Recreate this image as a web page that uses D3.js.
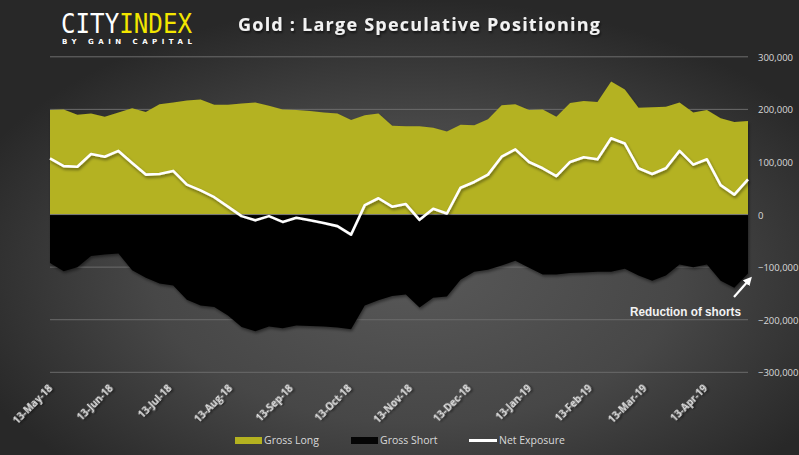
<!DOCTYPE html>
<html>
<head>
<meta charset="utf-8">
<script src="https://cdn.jsdelivr.net/npm/d3@7"></script>
<style>
  html, body { margin: 0; padding: 0; background: #3a3a3a; }
  svg { display: block; }
</style>
</head>
<body>
<script>
// weekly dates (COT positioning)
var dates = ["2018-05-13","2018-05-20","2018-05-27","2018-06-03","2018-06-10","2018-06-17","2018-06-24",
  "2018-07-01","2018-07-08","2018-07-15","2018-07-22","2018-07-29","2018-08-05","2018-08-12","2018-08-19",
  "2018-08-26","2018-09-02","2018-09-09","2018-09-16","2018-09-23","2018-09-30","2018-10-07","2018-10-14",
  "2018-10-21","2018-10-28","2018-11-04","2018-11-11","2018-11-18","2018-11-25","2018-12-02","2018-12-09",
  "2018-12-16","2018-12-23","2018-12-30","2019-01-06","2019-01-13","2019-01-20","2019-01-27","2019-02-03",
  "2019-02-10","2019-02-17","2019-02-24","2019-03-03","2019-03-10","2019-03-17","2019-03-24","2019-03-31",
  "2019-04-07","2019-04-14","2019-04-21","2019-04-28","2019-05-05"];

// contracts, thousands
var grossLong = [199,200,190,192,186,194,202,195,210,213,217,219,209,
  209,211,213,207,200,199,197,194,192,180,189,192,169,
  168,168,165,158,171,170,181,208,210,199,200,186,212,
  216,214,253,238,203,204,205,213,194,199,183,176,178];

var grossShort = [-92,-108,-100,-79,-76,-74,-106,-120,-131,-135,-162,-173,-176,
  -192,-214,-222,-213,-216,-211,-212,-213,-215,-218,-173,-163,-155,
  -152,-177,-158,-156,-124,-109,-105,-97,-88,-101,-114,-114,-111,
  -110,-109,-109,-103,-116,-126,-116,-95,-100,-95,-126,-139,-112];

var netExposure = [107,92,91,115,110,121,98,76,77,83,57,46,33,
  15,-3,-11,-3,-14,-6,-11,-16,-22,-38,18,31,15,
  20,-10,11,2,51,62,76,110,124,100,88,73,100,
  109,105,145,135,88,77,88,121,95,105,56,38,67];

var tickLabels = ["13-May-18","13-Jun-18","13-Jul-18","13-Aug-18","13-Sep-18","13-Oct-18",
  "13-Nov-18","13-Dec-18","13-Jan-19","13-Feb-19","13-Mar-19","13-Apr-19"];
var yTicks = [-300,-200,-100,0,100,200,300];

var width = 799, height = 455;
var parseDay = d3.timeParse("%Y-%m-%d");
var parseLabel = d3.timeParse("%d-%b-%y");

var data = dates.map(function(d, i) {
  return {date: parseDay(d), long: grossLong[i], short: grossShort[i], net: netExposure[i]};
});

var svg = d3.select("body").append("svg")
  .attr("width", width)
  .attr("height", height);

var defs = svg.append("defs");

var bg = defs.append("radialGradient")
  .attr("id", "bg")
  .attr("cx", "52%").attr("cy", "60%").attr("r", "60%");
bg.append("stop").attr("offset", "0%").attr("stop-color", "#585858");
bg.append("stop").attr("offset", "55%").attr("stop-color", "#474747");
bg.append("stop").attr("offset", "100%").attr("stop-color", "#282828");

var shadow = defs.append("filter").attr("id", "shadow")
  .attr("x", "-10%").attr("y", "-10%").attr("width", "120%").attr("height", "130%");
shadow.append("feDropShadow")
  .attr("dx", 1).attr("dy", 2).attr("stdDeviation", 1.5)
  .attr("flood-color", "#000").attr("flood-opacity", 0.45);

var txtShadow = defs.append("filter").attr("id", "txtshadow");
txtShadow.append("feDropShadow")
  .attr("dx", 1).attr("dy", 2).attr("stdDeviation", 1)
  .attr("flood-color", "#000").attr("flood-opacity", 0.6);

defs.append("marker")
  .attr("id", "arrow")
  .attr("viewBox", "0 0 10 10")
  .attr("refX", 5).attr("refY", 5)
  .attr("markerWidth", 4).attr("markerHeight", 4)
  .attr("orient", "auto")
  .append("path")
  .attr("d", "M0,0L10,5L0,10z")
  .attr("fill", "#fff");

svg.append("rect")
  .attr("width", width).attr("height", height)
  .attr("fill", "url(#bg)");

var x = d3.scaleTime()
  .domain([data[0].date, data[data.length - 1].date])
  .range([50, 748]);

var y = d3.scaleLinear()
  .domain([-300, 300])
  .range([372.3, 56.8]);

// gridlines
svg.append("g")
  .selectAll("line")
  .data(yTicks)
  .enter().append("line")
  .attr("x1", 50).attr("x2", 748)
  .attr("y1", function(d) { return y(d); })
  .attr("y2", function(d) { return y(d); })
  .attr("stroke", "#6b6b6b")
  .attr("stroke-width", 1);

var areaLong = d3.area()
  .x(function(d) { return x(d.date); })
  .y0(y(0))
  .y1(function(d) { return y(d.long); });

var areaShort = d3.area()
  .x(function(d) { return x(d.date); })
  .y0(y(0))
  .y1(function(d) { return y(d.short); });

var netLine = d3.line()
  .x(function(d) { return x(d.date); })
  .y(function(d) { return y(d.net); });

svg.append("path")
  .datum(data)
  .attr("d", areaLong)
  .attr("fill", "#b4b220")
  .attr("filter", "url(#shadow)");

svg.append("path")
  .datum(data)
  .attr("d", areaShort)
  .attr("fill", "#050505")
  .attr("filter", "url(#shadow)");

svg.append("line")
  .attr("x1", 50).attr("x2", 748)
  .attr("y1", y(0)).attr("y2", y(0))
  .attr("stroke", "#7a7a7a")
  .attr("stroke-width", 1);

svg.append("path")
  .datum(data)
  .attr("d", netLine)
  .attr("fill", "none")
  .attr("stroke", "#ffffff")
  .attr("stroke-width", 2.6)
  .attr("stroke-linejoin", "round")
  .attr("filter", "url(#shadow)");

// y axis labels on the right
svg.append("g")
  .selectAll("text")
  .data(yTicks)
  .enter().append("text")
  .attr("x", 758)
  .attr("y", function(d) { return y(d) + 4; })
  .attr("font-family", "Open Sans, sans-serif")
  .attr("font-size", 9.5)
  .attr("fill", "#d9d9d9")
  .text(function(d) { return d3.format(",")(d * 1000); });

// x axis labels
svg.append("g")
  .selectAll("text")
  .data(tickLabels)
  .enter().append("text")
  .attr("transform", function(d) {
    return "translate(" + (x(parseLabel(d)) + 3) + ",389) rotate(-45)";
  })
  .attr("text-anchor", "end")
  .attr("font-family", "Open Sans, sans-serif")
  .attr("font-weight", "bold")
  .attr("font-size", 10)
  .attr("fill", "#e0e0e0")
  .attr("filter", "url(#txtshadow)")
  .text(function(d) { return d; });

// logo
var logo = svg.append("g");
logo.append("text")
  .attr("x", 61).attr("y", 33)
  .attr("font-family", "DejaVu Sans Mono, monospace")
  .attr("font-size", 26)
  .attr("textLength", 131)
  .attr("lengthAdjust", "spacingAndGlyphs")
  .selectAll("tspan")
  .data([["CITY", "#ffffff"], ["INDEX", "#f3e600"]])
  .enter().append("tspan")
  .attr("fill", function(d) { return d[1]; })
  .text(function(d) { return d[0]; });
logo.append("text")
  .attr("x", 62).attr("y", 44)
  .attr("font-family", "DejaVu Sans, sans-serif")
  .attr("font-weight", "bold")
  .attr("font-size", 7)
  .attr("textLength", 130)
  .attr("lengthAdjust", "spacing")
  .attr("fill", "#ffffff")
  .text("BY GAIN CAPITAL");

// title
svg.append("text")
  .attr("x", 238).attr("y", 31)
  .attr("font-family", "Open Sans, sans-serif")
  .attr("font-weight", "bold")
  .attr("font-size", 18)
  .attr("textLength", 362)
  .attr("lengthAdjust", "spacing")
  .attr("fill", "#f2f2f2")
  .attr("filter", "url(#txtshadow)")
  .text("Gold : Large Speculative Positioning");

// annotation
svg.append("line")
  .attr("x1", 734).attr("y1", 297)
  .attr("x2", 749).attr("y2", 280)
  .attr("stroke", "#fff")
  .attr("stroke-width", 2.2)
  .attr("marker-end", "url(#arrow)");
svg.append("text")
  .attr("x", 630).attr("y", 316)
  .attr("font-family", "Liberation Sans, Arial, sans-serif")
  .attr("font-weight", "bold")
  .attr("font-size", 12)
  .attr("textLength", 111)
  .attr("lengthAdjust", "spacingAndGlyphs")
  .attr("fill", "#f2f2f2")
  .text("Reduction of shorts");

// legend
var legend = svg.append("g")
  .attr("font-family", "Open Sans, sans-serif")
  .attr("font-size", 10.5)
  .attr("fill", "#d9d9d9");
legend.append("rect").attr("x", 235).attr("y", 437).attr("width", 27).attr("height", 7).attr("fill", "#b4b220");
legend.append("text").attr("x", 264).attr("y", 444).text("Gross Long");
legend.append("rect").attr("x", 351).attr("y", 437).attr("width", 27).attr("height", 7).attr("fill", "#050505");
legend.append("text").attr("x", 380).attr("y", 444).text("Gross Short");
legend.append("line").attr("x1", 469).attr("x2", 497).attr("y1", 440.5).attr("y2", 440.5)
  .attr("stroke", "#fff").attr("stroke-width", 3);
legend.append("text").attr("x", 499).attr("y", 444).text("Net Exposure");
</script>
</body>
</html>
